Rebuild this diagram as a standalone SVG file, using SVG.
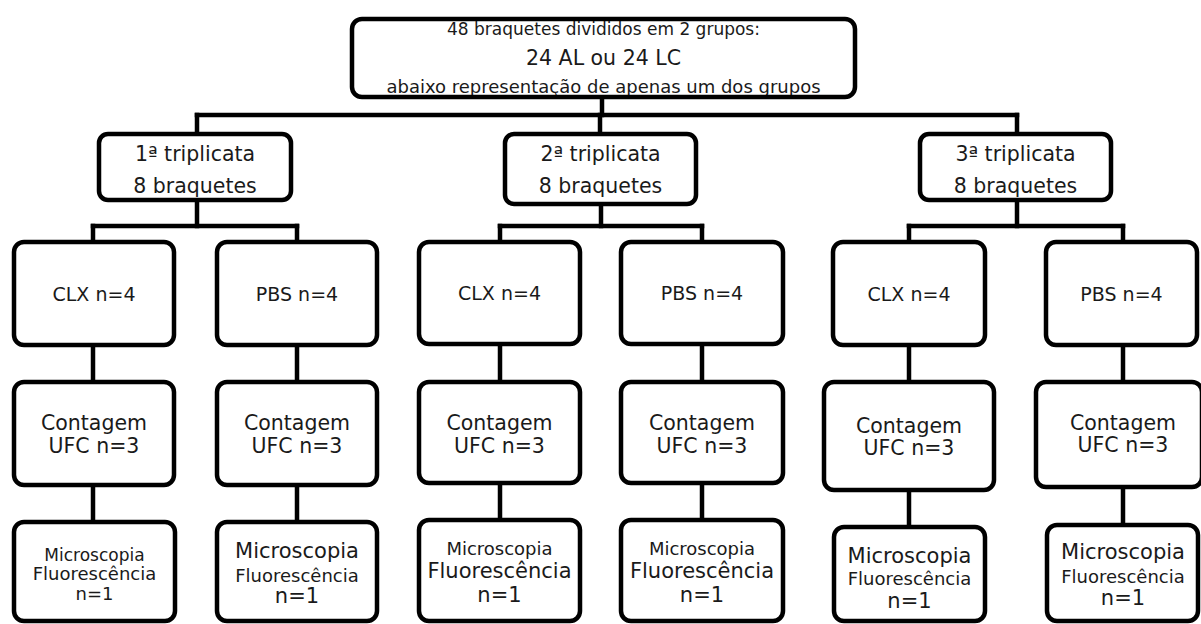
<svg xmlns="http://www.w3.org/2000/svg" width="1201" height="624" viewBox="0 0 1201 624">
<style>
.box{fill:#fff;stroke:#000;stroke-width:4.5}
.edge{fill:none;stroke:#000;stroke-width:4.5}
.conn line{stroke:#000;stroke-width:4.5;stroke-linecap:square}
text{font-family:"DejaVu Sans","Liberation Sans",sans-serif;fill:#1a1a1a;text-anchor:middle}
.s17{font-size:17px}.s18{font-size:18px}.s19{font-size:19px}.s20{font-size:20.5px}.s21{font-size:21px}
</style>
<rect width="1201" height="624" fill="#fff"/>
<g class="conn" id="connectors">
<line x1="602" y1="99" x2="602" y2="115"/>
<line x1="197" y1="115" x2="1017" y2="115"/>
<line x1="197" y1="115" x2="197" y2="134"/>
<line x1="600" y1="115" x2="600" y2="134"/>
<line x1="1017" y1="115" x2="1017" y2="134"/>
<line x1="197" y1="200" x2="197" y2="226"/>
<line x1="93" y1="226" x2="297" y2="226"/>
<line x1="93" y1="226" x2="93" y2="242"/>
<line x1="297" y1="226" x2="297" y2="242"/>
<line x1="601" y1="204" x2="601" y2="226"/>
<line x1="500" y1="226" x2="702" y2="226"/>
<line x1="500" y1="226" x2="500" y2="242"/>
<line x1="702" y1="226" x2="702" y2="242"/>
<line x1="1017" y1="200" x2="1017" y2="226"/>
<line x1="909" y1="226" x2="1123" y2="226"/>
<line x1="909" y1="226" x2="909" y2="242"/>
<line x1="1123" y1="226" x2="1123" y2="242"/>
<line x1="93" y1="345" x2="93" y2="382"/>
<line x1="297" y1="345" x2="297" y2="382"/>
<line x1="500" y1="344" x2="500" y2="382"/>
<line x1="702" y1="344" x2="702" y2="382"/>
<line x1="909" y1="345" x2="909" y2="382"/>
<line x1="1123" y1="345" x2="1123" y2="382"/>
<line x1="93" y1="485" x2="93" y2="522"/>
<line x1="297" y1="485" x2="297" y2="522"/>
<line x1="500" y1="483" x2="500" y2="520"/>
<line x1="702" y1="483" x2="702" y2="520"/>
<line x1="909" y1="490" x2="909" y2="527"/>
<line x1="1123" y1="487" x2="1123" y2="525"/>
</g>
<g id="top">
<rect x="352" y="19" width="503" height="78" rx="10" fill="#fff"/>
<text class="s17" x="603.5" y="35">48 braquetes divididos em 2 grupos:</text>
<text class="s20" x="603.5" y="65">24 AL ou 24 LC</text>
<text class="s18" x="603.5" y="93">abaixo representação de apenas um dos grupos</text>
<rect class="edge" x="352" y="19" width="503" height="78" rx="10"/>
</g>
<g id="trip1">
<rect class="box" x="99" y="134" width="192" height="66" rx="9"/>
<text class="s20" x="195" y="161">1ª triplicata</text>
<text class="s20" x="195" y="193">8 braquetes</text>
</g>
<g id="trip2">
<rect class="box" x="505" y="134" width="191" height="70" rx="9"/>
<text class="s20" x="600.5" y="161">2ª triplicata</text>
<text class="s20" x="600.5" y="193">8 braquetes</text>
</g>
<g id="trip3">
<rect class="box" x="920" y="134" width="191" height="66" rx="9"/>
<text class="s20" x="1015.5" y="161">3ª triplicata</text>
<text class="s20" x="1015.5" y="193">8 braquetes</text>
</g>
<g id="clx1"><rect class="box" x="14" y="242" width="160" height="103" rx="10"/><text class="s19" x="94" y="301">CLX n=4</text></g>
<g id="pbs1"><rect class="box" x="217" y="242" width="160" height="103" rx="10"/><text class="s19" x="297" y="301">PBS n=4</text></g>
<g id="clx2"><rect class="box" x="419" y="242" width="161" height="102" rx="10"/><text class="s19" x="499.5" y="300">CLX n=4</text></g>
<g id="pbs2"><rect class="box" x="621" y="242" width="162" height="102" rx="10"/><text class="s19" x="702" y="300">PBS n=4</text></g>
<g id="clx3"><rect class="box" x="833" y="242" width="152" height="103" rx="10"/><text class="s19" x="909" y="301">CLX n=4</text></g>
<g id="pbs3"><rect class="box" x="1046" y="242" width="151" height="103" rx="10"/><text class="s19" x="1121.5" y="301">PBS n=4</text></g>
<g id="ufc1"><rect class="box" x="14" y="382" width="160" height="103" rx="10"/><text class="s20" x="94" y="430">Contagem</text><text class="s20" x="94" y="453">UFC n=3</text></g>
<g id="ufc2"><rect class="box" x="217" y="382" width="160" height="103" rx="10"/><text class="s20" x="297" y="430">Contagem</text><text class="s20" x="297" y="453">UFC n=3</text></g>
<g id="ufc3"><rect class="box" x="419" y="382" width="161" height="101" rx="10"/><text class="s20" x="499.5" y="430">Contagem</text><text class="s20" x="499.5" y="453">UFC n=3</text></g>
<g id="ufc4"><rect class="box" x="621" y="382" width="162" height="101" rx="10"/><text class="s20" x="702" y="430">Contagem</text><text class="s20" x="702" y="453">UFC n=3</text></g>
<g id="ufc5"><rect class="box" x="824" y="382" width="170" height="108" rx="10"/><text class="s20" x="909" y="433">Contagem</text><text class="s20" x="909" y="455">UFC n=3</text></g>
<g id="ufc6"><rect class="box" x="1036" y="382" width="166" height="105" rx="10"/><text class="s20" x="1123" y="430">Contagem</text><text class="s20" x="1123" y="452">UFC n=3</text></g>
<g id="mic1"><rect class="box" x="14" y="522" width="161" height="99" rx="10"/><text class="s17" x="94.5" y="561">Microscopia</text><text class="s18" x="94.5" y="580">Fluorescência</text><text class="s18" x="94.5" y="600">n=1</text></g>
<g id="mic2"><rect class="box" x="217" y="522" width="160" height="99" rx="10"/><text class="s21" x="297" y="558">Microscopia</text><text class="s18" x="297" y="582">Fluorescência</text><text class="s21" x="297" y="603">n=1</text></g>
<g id="mic3"><rect class="box" x="419" y="520" width="161" height="101" rx="10"/><text class="s18" x="499.5" y="555">Microscopia</text><text class="s21" x="499.5" y="578">Fluorescência</text><text class="s21" x="499.5" y="602">n=1</text></g>
<g id="mic4"><rect class="box" x="621" y="520" width="162" height="101" rx="10"/><text class="s18" x="702" y="555">Microscopia</text><text class="s21" x="702" y="578">Fluorescência</text><text class="s21" x="702" y="602">n=1</text></g>
<g id="mic5"><rect class="box" x="834" y="527" width="151" height="94" rx="10"/><text class="s21" x="909.5" y="563">Microscopia</text><text class="s18" x="909.5" y="585">Fluorescência</text><text class="s21" x="909.5" y="608">n=1</text></g>
<g id="mic6"><rect class="box" x="1047" y="525" width="151" height="96" rx="10"/><text class="s21" x="1123" y="559">Microscopia</text><text class="s18" x="1123" y="583">Fluorescência</text><text class="s21" x="1123" y="605">n=1</text></g>
</svg>
